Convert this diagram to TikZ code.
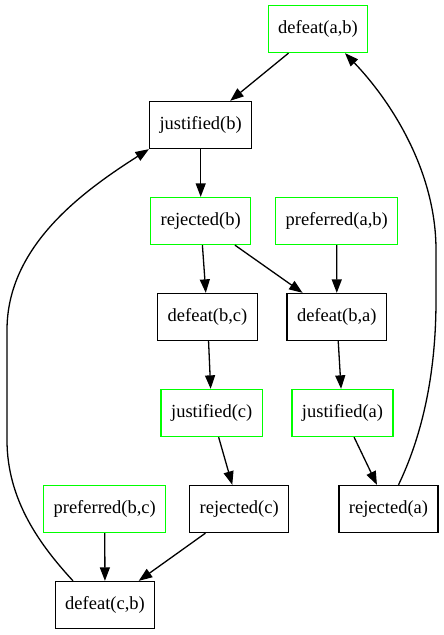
\documentclass[tikz,border=0pt]{standalone}
\usepackage{fontspec}
\setmainfont{Liberation Serif}
\usetikzlibrary{arrows.meta}
\definecolor{gvgreen}{RGB}{0,255,0}
\tikzset{
  box/.style={draw=black, rectangle, line width=1.3pt, minimum width=99pt, minimum height=47pt, inner xsep=10pt, font=\fontsize{18.5pt}{22pt}\selectfont},
  gbox/.style={box, draw=gvgreen},
  edge/.style={line width=1.3pt, -{Triangle[length=13.5pt,width=10pt]}}
}
\begin{document}
\begin{tikzpicture}[x=1pt,y=-1pt]
\useasboundingbox (0,0) rectangle (444,635);
\node[gbox] (dab) at (318,29) {defeat(a,b)};
\node[box]  (jb)  at (200.7,125) {justified(b)};
\node[gbox] (rb)  at (200.7,221) {rejected(b)};
\node[gbox] (pab) at (336.7,221) {preferred(a,b)};
\node[box]  (dbc) at (207.5,317) {defeat(b,c)};
\node[box]  (dba) at (336.8,317) {defeat(b,a)};
\node[gbox] (jc)  at (211.7,413) {justified(c)};
\node[gbox] (ja)  at (342.5,413) {justified(a)};
\node[gbox] (pbc) at (104.7,509) {preferred(b,c)};
\node[box]  (rc)  at (239.2,509) {rejected(c)};
\node[box]  (ra)  at (388.5,509) {rejected(a)};
\node[box]  (dcb) at (105,605) {defeat(c,b)};

\draw[edge] (dab) -- (jb);
\draw[edge] (jb) -- (rb);
\draw[edge] (rb) -- (dbc);
\draw[edge] (rb) -- (dba);
\draw[edge] (pab) -- (dba);
\draw[edge] (dbc) -- (jc);
\draw[edge] (dba) -- (ja);
\draw[edge] (jc) -- (rc);
\draw[edge] (ja) -- (ra);
\draw[edge] (pbc) -- (dcb);
\draw[edge] (rc) -- (dcb);
\draw[edge] ([xshift=10pt]ra.north) .. controls (420,440) and (436,380) .. (436,300)
  -- (436,250) .. controls (436,170) and (390,100) .. ([xshift=27pt]dab.south);
\draw[edge] ([xshift=-32pt]dcb.north) .. controls (40,545) and (7,500) .. (7,440)
  -- (7,330) .. controls (7,245) and (85,190) .. (jb.south west);
\end{tikzpicture}
\end{document}
